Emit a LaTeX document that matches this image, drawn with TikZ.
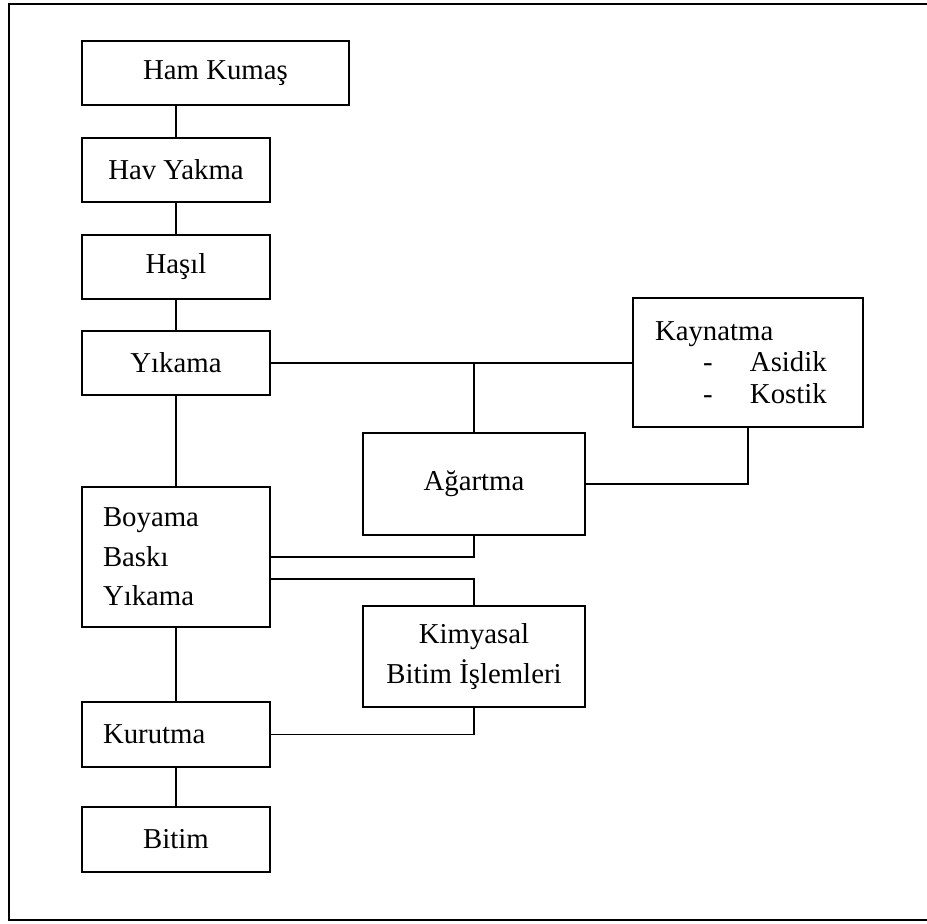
\documentclass[tikz,border=0pt]{standalone}
\usepackage{fontspec}
\setmainfont{Liberation Serif}
\begin{document}
\begin{tikzpicture}[
			x=0.5pt, y=-0.5pt,
			kutu/.style={draw, line width=0.7pt, inner sep=0pt, font=\fontsize{14.4}{19.75}\selectfont},
			solkutu/.style={kutu, align=left, inner xsep=10.5pt},
			hat/.style={line width=0.7pt}
		]
		\useasboundingbox (0,0) rectangle (927,923);
		\draw[line width=1.2pt] (927,4) -- (9,4) -- (9,920) -- (927,920);

		\node[kutu, minimum width=133.5pt, minimum height=32pt] (hamkumas) at (215.5,73) {Ham Kumaş};
		\node[kutu, minimum width=94pt, minimum height=32pt] (havyakma) at (176,170) {Hav Yakma};
		\node[kutu, minimum width=94pt, minimum height=32pt] (hasil) at (176,267) {Haşıl};
		\node[kutu, minimum width=94pt, minimum height=32pt] (yikama) at (176,363) {Yıkama};
		\node[solkutu, text width=73pt, minimum height=70pt] (boyama) at (176,557) {Boyama\\Baskı\\Yıkama};
		\node[solkutu, text width=73pt, minimum height=32.5pt] (kurutma) at (176,734.5) {Kurutma};
		\node[kutu, minimum width=94pt, minimum height=32.5pt] (bitim) at (176,839.5) {Bitim};
		\node[kutu, minimum width=111pt, minimum height=51pt] (agartma) at (474,484) {Ağartma};
		\node[kutu, align=center, minimum width=111pt, minimum height=50.5pt] (kimyasal) at (474,656.5) {Kimyasal\\Bitim İşlemleri};
		\node[solkutu, inner xsep=11pt, text width=93pt, minimum height=64.5pt,
			font=\fontsize{14.4}{15.75}\selectfont] (kaynatma) at (748,362.5)
			{Kaynatma\\\hspace*{24pt}\makebox[23.5pt][l]{-}Asidik\\\hspace*{24pt}\makebox[23.5pt][l]{-}Kostik};

		\draw[hat] (havyakma.north |- hamkumas.south) -- (havyakma.north);
		\draw[hat] (havyakma.south) -- (hasil.north);
		\draw[hat] (hasil.south) -- (yikama.north);
		\draw[hat] (yikama.south) -- (boyama.north);
		\draw[hat] (boyama.south) -- (kurutma.north);
		\draw[hat] (kurutma.south) -- (bitim.north);
		\draw[hat] (yikama.east) -- (yikama.east -| kaynatma.west);
		\draw[hat] (agartma.north |- yikama.east) -- (agartma.north);
		\draw[hat] (kaynatma.south) |- (agartma.east);
		\draw[hat] (boyama.east) -| (agartma.south);
		\draw[hat] ([yshift=-11pt]boyama.east) -| (kimyasal.north);
		\draw[hat] (kimyasal.south) |- (kurutma.east);
	\end{tikzpicture}
\end{document}
